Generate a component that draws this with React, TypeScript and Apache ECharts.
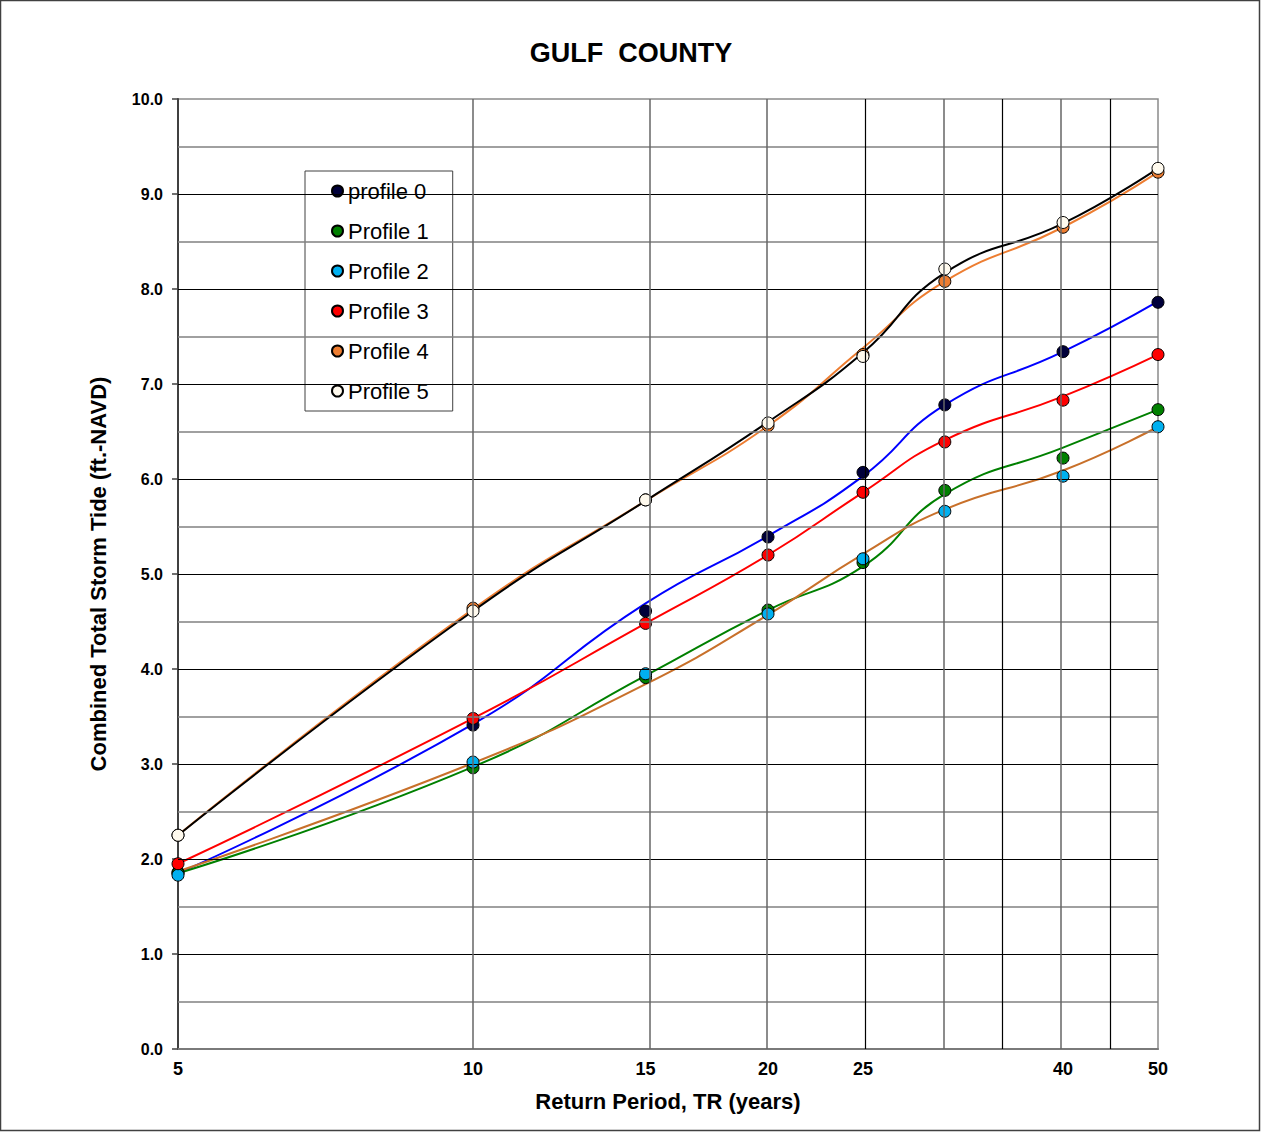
import React, { useEffect, useRef } from "react";
import * as echarts from "echarts";

const FONT = "'Liberation Sans', Arial, sans-serif";

// Return periods (years) of the plotted points
const returnPeriods = [5, 10, 15, 20, 25, 30.3, 40, 50];
// Tick labels on the (log) x axis
const xLabelValues = [5, 10, 15, 20, 25, 40, 50];
// Vertical grid lines
const xGridGray = [10, 15, 20, 30, 40];
const xGridBlack = [25, 35, 45];
// Horizontal grid lines
const yMajor = [1, 2, 3, 4, 5, 6, 7, 8, 9];
const yMinor = [0.5, 1.5, 2.5, 3.5, 4.5, 5.5, 6.5, 7.5, 8.5, 9.5];

const names = ["profile 0", "Profile 1", "Profile 2", "Profile 3", "Profile 4", "Profile 5"];

// Marker values
const dots0 = [1.86, 3.41, 4.61, 5.39, 6.07, 6.78, 7.34, 7.86];
const dots1 = [1.85, 2.96, 3.91, 4.62, 5.12, 5.88, 6.22, 6.73];
const dots2 = [1.83, 3.02, 3.95, 4.58, 5.16, 5.66, 6.03, 6.55];
const dots3 = [1.95, 3.48, 4.48, 5.2, 5.86, 6.39, 6.83, 7.31];
const dots4 = [2.25, 4.64, 5.78, 6.56, 7.31, 8.08, 8.65, 9.23];
const dots5 = [2.25, 4.61, 5.78, 6.59, 7.29, 8.21, 8.7, 9.27];

// Smoothed curve values
const curve0 = [1.85, 3.42, 4.69, 5.4, 6.03, 6.78, 7.34, 7.87];
const curve1 = [1.85, 2.97, 3.93, 4.62, 5.08, 5.84, 6.33, 6.73];
const curve2 = [1.87, 3.01, 3.84, 4.57, 5.21, 5.68, 6.09, 6.55];
const curve3 = [1.95, 3.48, 4.48, 5.2, 5.86, 6.41, 6.87, 7.31];
const curve4 = [2.25, 4.63, 5.77, 6.56, 7.38, 8.08, 8.65, 9.23];
const curve5 = [2.25, 4.61, 5.77, 6.6, 7.33, 8.17, 8.69, 9.27];

const dotSets = [dots0, dots1, dots2, dots3, dots4, dots5];
const curveSets = [curve0, curve1, curve2, curve3, curve4, curve5];
const dotColors = ["#00003a", "#008000", "#00b0f0", "#ff0000", "#ed7d31", "#fffaee"];
const curveColors = ["#0000ff", "#008000", "#c8702a", "#ff0000", "#ed7d31", "#000000"];

const lx = (t: number) => Math.log10(t);

export default function App() {
  const ref = useRef<HTMLDivElement>(null);

  useEffect(() => {
    if (!ref.current) return;
    const chart = echarts.init(ref.current, undefined, { renderer: "svg" });

    const gridLines: any[] = [
      ...yMinor.map((v) => ({ yAxis: v, lineStyle: { color: "#808080", width: 1.5, type: "solid" } })),
      ...yMajor.map((v) => ({ yAxis: v, lineStyle: { color: "#000", width: 1.2, type: "solid" } })),
      ...xGridGray.map((v) => ({ xAxis: lx(v), lineStyle: { color: "#666666", width: 1.5, type: "solid" } })),
      ...xGridBlack.map((v) => ({ xAxis: lx(v), lineStyle: { color: "#000", width: 1.2, type: "solid" } })),
    ];

    const series: any[] = [
      {
        type: "line",
        name: "grid",
        data: [[lx(5), 0]],
        symbol: "none",
        lineStyle: { opacity: 0 },
        silent: true,
        z: 1,
        markLine: {
          silent: true,
          symbol: ["none", "none"],
          label: { show: false },
          animation: false,
          data: gridLines,
        },
      },
    ];

    curveSets.forEach((c, i) => {
      series.push({
        type: "line",
        name: "curve" + i,
        data: returnPeriods.map((t, k) => [lx(t), c[k]]),
        smooth: 0.5,
        symbol: "none",
        showSymbol: false,
        lineStyle: { color: curveColors[i], width: 2 },
        itemStyle: { color: curveColors[i] },
        z: 2,
      });
    });

    dotSets.forEach((d, i) => {
      series.push({
        type: "scatter",
        name: names[i],
        data: returnPeriods.map((t, k) => [lx(t), d[k]]),
        symbol: "circle",
        symbolSize: 12,
        clip: false,
        itemStyle: { color: dotColors[i], borderColor: "#000", borderWidth: 1, opacity: 1 },
        z: 3,
      });
    });

    chart.setOption({
      animation: false,
      backgroundColor: "#fff",
      title: {
        text: "GULF  COUNTY",
        left: "center",
        top: 34,
        textStyle: { fontFamily: FONT, fontWeight: "bold", fontSize: 27, color: "#000" },
      },
      legend: {
        data: names,
        orient: "vertical",
        left: 305,
        top: 171,
        padding: [9, 24, 9, 26],
        itemGap: 18,
        itemWidth: 11,
        itemHeight: 11,
        icon: "circle",
        backgroundColor: "#fff",
        borderColor: "#404040",
        borderWidth: 1,
        borderRadius: 0,
        textStyle: { fontFamily: FONT, fontSize: 22, color: "#000", lineHeight: 22 },
        selectedMode: false,
      },
      grid: {
        left: 178,
        top: 99,
        width: 980,
        height: 950,
        show: true,
        backgroundColor: "transparent",
        borderColor: "#8a8a8a",
        borderWidth: 1.5,
        containLabel: false,
      },
      xAxis: {
        type: "value",
        min: lx(5),
        max: lx(50),
        name: "Return Period, TR (years)",
        nameLocation: "middle",
        nameGap: 41,
        nameTextStyle: { fontFamily: FONT, fontWeight: "bold", fontSize: 22, color: "#000" },
        axisLine: { show: true, onZero: false, lineStyle: { color: "#7a7a7a", width: 2 } },
        axisTick: { show: false },
        splitLine: { show: false },
        axisLabel: {
          customValues: xLabelValues.map(lx),
          formatter: (v: number) => String(Math.round(Math.pow(10, v))),
          fontFamily: FONT,
          fontWeight: "bold",
          fontSize: 18,
          color: "#000",
          margin: 11,
        },
      },
      yAxis: {
        type: "value",
        min: 0,
        max: 10,
        interval: 1,
        name: "Combined Total Storm Tide (ft.-NAVD)",
        nameLocation: "middle",
        nameGap: 69,
        nameRotate: 90,
        nameTextStyle: { fontFamily: FONT, fontWeight: "bold", fontSize: 22, color: "#000" },
        axisLine: { show: true, lineStyle: { color: "#404040", width: 2 } },
        axisTick: { show: true, length: 6, lineStyle: { color: "#404040", width: 1.5 } },
        splitLine: { show: false },
        axisLabel: {
          formatter: (v: number) => v.toFixed(1),
          fontFamily: FONT,
          fontWeight: "bold",
          fontSize: 16,
          color: "#000",
          margin: 15,
        },
      },
      graphic: [
        {
          type: "rect",
          shape: { x: 0.5, y: 0.5, width: 1259, height: 1130 },
          style: { fill: "none", stroke: "#404040", lineWidth: 1.5 },
          silent: true,
          z: 100,
        },
      ],
      series,
    });

    return () => chart.dispose();
  }, []);

  return (
    <div
      ref={ref}
      style={{ position: "absolute", left: 0, top: 0, width: 1262, height: 1132 }}
    />
  );
}
